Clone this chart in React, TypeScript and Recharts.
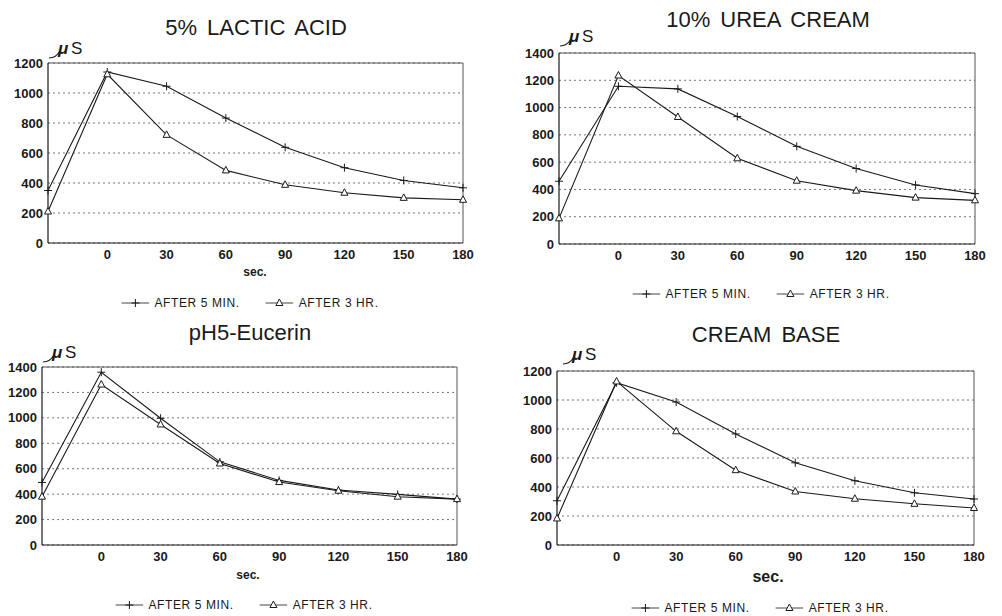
import React from 'react';
import { LineChart, Line, XAxis, YAxis, CartesianGrid, ReferenceLine } from 'recharts';

// x categories: first point is the baseline reading (no label), then seconds
const times = ['base', '0', '30', '60', '90', '120', '150', '180'];

const lacticFiveMin = [350, 1140, 1045, 833, 638, 502, 417, 368];
const lacticThreeHr = [210, 1125, 721, 484, 388, 335, 301, 288];

const ureaFiveMin = [460, 1156, 1137, 934, 716, 553, 433, 369];
const ureaThreeHr = [188, 1235, 931, 628, 464, 391, 340, 320];

const eucerinFiveMin = [492, 1359, 997, 654, 508, 432, 398, 361];
const eucerinThreeHr = [380, 1262, 948, 641, 495, 427, 380, 361];

const baseFiveMin = [305, 1119, 986, 766, 567, 443, 360, 317];
const baseThreeHr = [183, 1128, 784, 516, 369, 319, 284, 255];

const ticks1200 = [0, 200, 400, 600, 800, 1000, 1200];
const ticks1400 = [0, 200, 400, 600, 800, 1000, 1200, 1400];

const seriesNames = ['AFTER 5 MIN.', 'AFTER 3 HR.'];

const FONT = '"Liberation Sans", Arial, Helvetica, sans-serif';
const INK = '#1a1a1a';

const PlusDot = (props: any) => {
  const { cx, cy } = props;
  if (cx == null || cy == null) return null;
  return (
    <g stroke={INK} strokeWidth={1}>
      <line x1={cx - 4} y1={cy} x2={cx + 4} y2={cy} />
      <line x1={cx} y1={cy - 4} x2={cx} y2={cy + 4} />
    </g>
  );
};

const TriDot = (props: any) => {
  const { cx, cy } = props;
  if (cx == null || cy == null) return null;
  return (
    <path
      d={`M${cx},${cy - 4} L${cx + 3.5},${cy + 2.5} L${cx - 3.5},${cy + 2.5} Z`}
      fill="#fff"
      stroke={INK}
      strokeWidth={1}
    />
  );
};

const LegendRow = ({ x, y }: { x: number; y: number }) => (
  <div
    style={{
      position: 'absolute',
      left: x,
      top: y,
      transform: 'translate(-50%, -50%)',
      display: 'flex',
      alignItems: 'center',
      gap: 26,
      whiteSpace: 'nowrap',
      fontFamily: FONT,
      fontSize: 12,
      letterSpacing: 0.6,
      color: INK,
    }}
  >
    {seriesNames.map((name, i) => (
      <span key={name} style={{ display: 'flex', alignItems: 'center', gap: 5 }}>
        <svg width={28} height={10}>
          <line x1={0} y1={5} x2={28} y2={5} stroke="#444" strokeWidth={1} />
          {i === 0 ? <PlusDot cx={14} cy={5} /> : <TriDot cx={14} cy={5} />}
        </svg>
        {name}
      </span>
    ))}
  </div>
);

const MuLabel = ({ x, y }: { x: number; y: number }) => (
  <svg style={{ position: 'absolute', left: x, top: y }} width={46} height={22}>
    <path d="M1,20 Q8,20 12,13" fill="none" stroke={INK} strokeWidth={1.2} />
    <text x={10} y={16} fontFamily={FONT} fontSize={17} fontStyle="italic" fontWeight={700} fill={INK}>
      μ
    </text>
    <text x={23} y={16} fontFamily={FONT} fontSize={17} fill={INK}>
      S
    </text>
  </svg>
);

interface PanelProps {
  title: string;
  fiveMin: number[];
  threeHr: number[];
  yTicks: number[];
  box: { left: number; top: number; width: number; height: number };
  plot: { x1: number; y1: number; x2: number; y2: number };
  titleAt: [number, number];
  muAt: [number, number];
  secAt: [number, number, number] | null;
  legendAt: [number, number];
}

const Y_AXIS_W = 40;
const X_AXIS_H = 30;

const Panel = (p: PanelProps) => {
  const data = times.map((t, i) => ({ t, a: p.fiveMin[i], b: p.threeHr[i] }));
  const yMax = p.yTicks[p.yTicks.length - 1];
  const margin = {
    top: p.plot.y1 - p.box.top,
    left: p.plot.x1 - p.box.left - Y_AXIS_W,
    right: p.box.left + p.box.width - p.plot.x2,
    bottom: p.box.top + p.box.height - p.plot.y2 - X_AXIS_H,
  };
  const tick = { fill: INK, fontSize: 13, fontWeight: 700, fontFamily: FONT };
  return (
    <>
      <div
        style={{
          position: 'absolute',
          left: p.titleAt[0],
          top: p.titleAt[1],
          transform: 'translate(-50%, -50%)',
          fontFamily: FONT,
          fontSize: 22,
          wordSpacing: 4,
          color: INK,
          whiteSpace: 'nowrap',
        }}
      >
        {p.title}
      </div>
      <MuLabel x={p.muAt[0]} y={p.muAt[1]} />
      <div style={{ position: 'absolute', left: p.box.left, top: p.box.top }}>
        <LineChart width={p.box.width} height={p.box.height} data={data} margin={margin}>
          <CartesianGrid vertical={false} stroke="#777" strokeDasharray="2 3" />
          <XAxis
            dataKey="t"
            height={X_AXIS_H}
            tickLine={false}
            tickSize={0}
            tickMargin={7}
            tick={tick}
            tickFormatter={(v: string) => (v === 'base' ? '' : v)}
            axisLine={{ stroke: INK, strokeWidth: 1.2 }}
            interval={0}
          />
          <YAxis
            width={Y_AXIS_W}
            domain={[0, yMax]}
            ticks={p.yTicks}
            tickLine={false}
            tickSize={0}
            tickMargin={5}
            tick={tick}
            axisLine={{ stroke: INK, strokeWidth: 1.2 }}
          />
          <ReferenceLine y={yMax} stroke="#555" strokeWidth={1} />
          <ReferenceLine x="180" stroke="#555" strokeWidth={1} />
          <Line
            type="linear"
            dataKey="a"
            name={seriesNames[0]}
            stroke={INK}
            strokeWidth={1.1}
            dot={<PlusDot />}
            activeDot={false}
            isAnimationActive={false}
          />
          <Line
            type="linear"
            dataKey="b"
            name={seriesNames[1]}
            stroke={INK}
            strokeWidth={1.1}
            dot={<TriDot />}
            activeDot={false}
            isAnimationActive={false}
          />
        </LineChart>
      </div>
      {p.secAt && (
        <div
          style={{
            position: 'absolute',
            left: p.secAt[0],
            top: p.secAt[1],
            transform: 'translate(-50%, -50%)',
            fontFamily: FONT,
            fontSize: p.secAt[2],
            fontWeight: 700,
            color: INK,
          }}
        >
          sec.
        </div>
      )}
      <LegendRow x={p.legendAt[0]} y={p.legendAt[1]} />
    </>
  );
};

export default function App() {
  return (
    <div
      style={{
        position: 'absolute',
        left: 0,
        top: 0,
        width: 1002,
        height: 616,
        background: '#fff',
        overflow: 'hidden',
      }}
    >
      <Panel
        title="5% LACTIC ACID"
        fiveMin={lacticFiveMin}
        threeHr={lacticThreeHr}
        yTicks={ticks1200}
        box={{ left: 0, top: 0, width: 500, height: 300 }}
        plot={{ x1: 48, y1: 63, x2: 463, y2: 243 }}
        titleAt={[256, 28]}
        muAt={[48, 38]}
        secAt={[255, 272, 12]}
        legendAt={[250, 303]}
      />
      <Panel
        title="10% UREA CREAM"
        fiveMin={ureaFiveMin}
        threeHr={ureaThreeHr}
        yTicks={ticks1400}
        box={{ left: 500, top: 0, width: 502, height: 300 }}
        plot={{ x1: 559, y1: 53, x2: 975, y2: 244 }}
        titleAt={[768, 20]}
        muAt={[559, 26]}
        secAt={null}
        legendAt={[761, 294]}
      />
      <Panel
        title="pH5-Eucerin"
        fiveMin={eucerinFiveMin}
        threeHr={eucerinThreeHr}
        yTicks={ticks1400}
        box={{ left: 0, top: 310, width: 500, height: 290 }}
        plot={{ x1: 42, y1: 367, x2: 457, y2: 545 }}
        titleAt={[250, 333]}
        muAt={[42, 342]}
        secAt={[248, 575, 12]}
        legendAt={[244, 605]}
      />
      <Panel
        title="CREAM BASE"
        fiveMin={baseFiveMin}
        threeHr={baseThreeHr}
        yTicks={ticks1200}
        box={{ left: 500, top: 310, width: 502, height: 290 }}
        plot={{ x1: 557, y1: 371, x2: 974, y2: 545 }}
        titleAt={[766, 335]}
        muAt={[562, 344]}
        secAt={[768, 577, 16]}
        legendAt={[760, 608]}
      />
    </div>
  );
}
